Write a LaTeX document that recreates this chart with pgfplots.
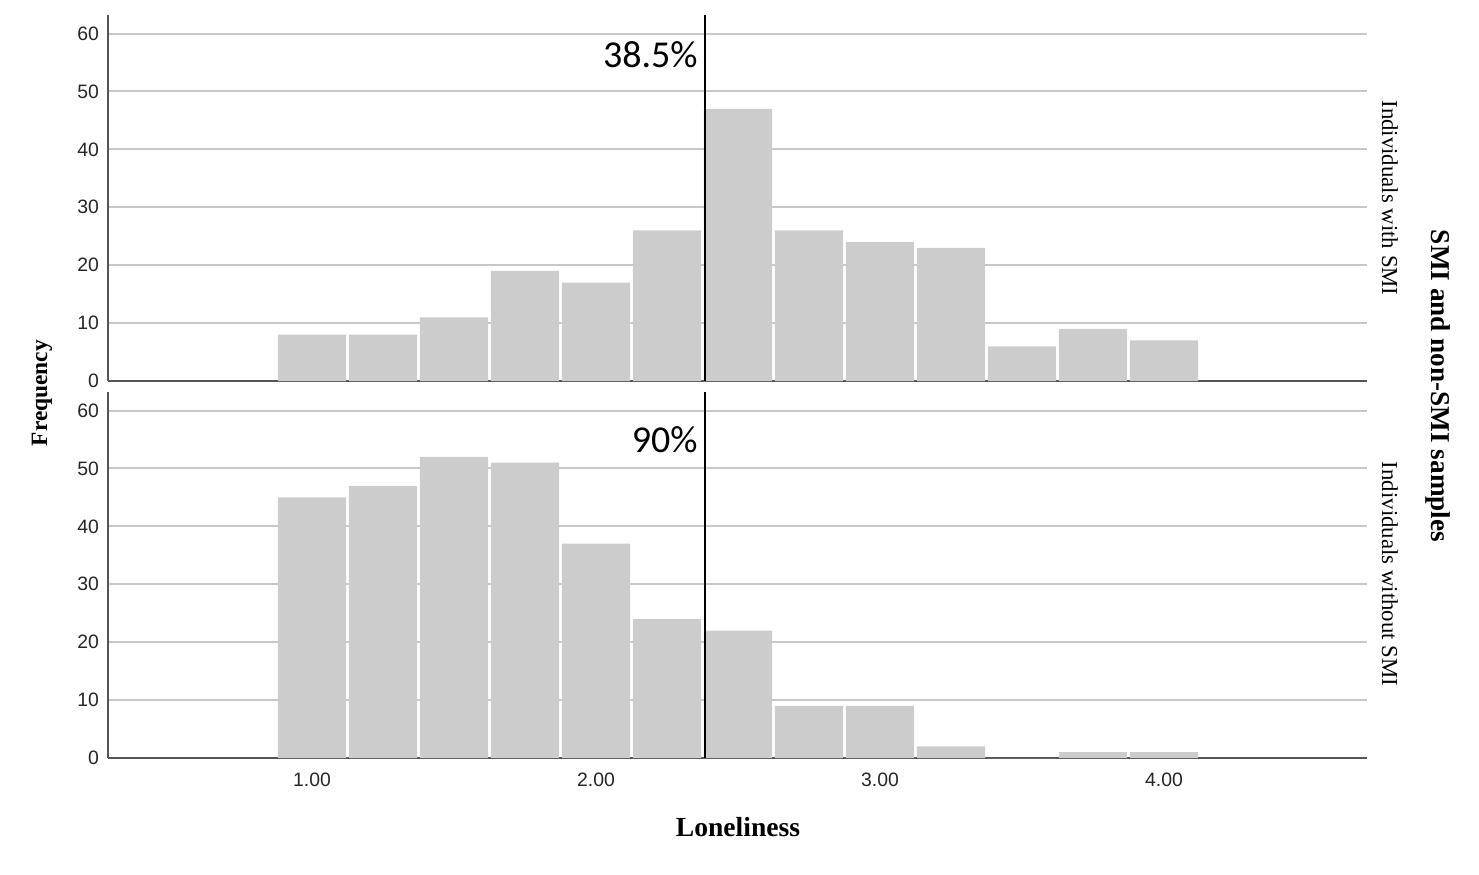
\documentclass[border=0pt]{standalone}
\usepackage{fontspec}
\setmainfont{Liberation Serif}
\newfontfamily\tickfont{Liberation Sans}
\newfontfamily\calfont{Carlito}
\usepackage{pgfplots}
\pgfplotsset{compat=1.18}
\definecolor{barfill}{HTML}{CCCCCC}
\definecolor{gridc}{HTML}{C8C8C8}
\definecolor{axc}{HTML}{555555}
\pgfplotsset{
  panel/.style={
    scale only axis,
    width=629.5pt, height=183pt,
    xmin=0.2817, xmax=4.715,
    ymin=0, ymax=63.2,
    axis lines*=left,
    axis line style={axc, line width=0.7pt},
    ytick={0,10,20,30,40,50,60},
    xtick={1,2,3,4},
    major tick style={draw=none},
    ymajorgrids,
    grid style={gridc, line width=1pt},
    /pgf/number format/assume math mode=true,
    ticklabel style={font=\tickfont\fontsize{9.7}{11}\selectfont, text=black!85},
    yticklabel style={xshift=-1pt},
    clip=false,
  },
  bars/.style={ybar, bar width=0.24, bar shift=0pt, fill=barfill, draw=none},
}
\begin{document}
\begin{tikzpicture}
\path[use as bounding box] (0,0) rectangle (739.5pt,-437pt);
% top panel
\begin{axis}[panel, at={(54pt,-190.5pt)}, anchor=south west, xticklabels={}]
\addplot[bars] coordinates {
(1.00,8) (1.25,8) (1.50,11) (1.75,19) (2.00,17) (2.25,26) (2.50,47)
(2.75,26) (3.00,24) (3.25,23) (3.50,6) (3.75,9) (4.00,7)};
\addplot[black, line width=0.6pt] coordinates {(2.384,0) (2.384,63.2)};
\end{axis}
% bottom panel
\begin{axis}[panel, at={(54pt,-379pt)}, anchor=south west,
  xticklabels={1.00,2.00,3.00,4.00}, xticklabel style={yshift=-4pt}]
\addplot[bars] coordinates {
(1.00,45) (1.25,47) (1.50,52) (1.75,51) (2.00,37) (2.25,24) (2.50,22)
(2.75,9) (3.00,9) (3.25,2) (3.50,0) (3.75,1) (4.00,1)};
\addplot[black, line width=0.6pt] coordinates {(2.384,0) (2.384,63.2)};
\end{axis}
% annotations
\node[anchor=east, inner sep=0pt, font=\calfont\fontsize{19}{22}\selectfont] at (349pt,-27.5pt) {38.5\%};
\node[anchor=east, inner sep=0pt, font=\calfont\fontsize{19}{22}\selectfont] at (349pt,-220pt) {90\%};
% axis titles
\node[rotate=90, font=\bfseries\fontsize{11.7}{14}\selectfont] at (21pt,-196.5pt) {Frequency};
\node[font=\bfseries\fontsize{13.8}{16}\selectfont] at (369pt,-413.5pt) {Loneliness};
\node[rotate=-90, font=\fontsize{11.4}{14}\selectfont] at (695pt,-99pt) {Individuals with SMI};
\node[rotate=-90, font=\fontsize{11.4}{14}\selectfont] at (695pt,-287pt) {Individuals without SMI};
\node[rotate=-90, font=\bfseries\fontsize{13.6}{16}\selectfont] at (719pt,-193pt) {SMI and non-SMI samples};
\end{tikzpicture}
\end{document}
